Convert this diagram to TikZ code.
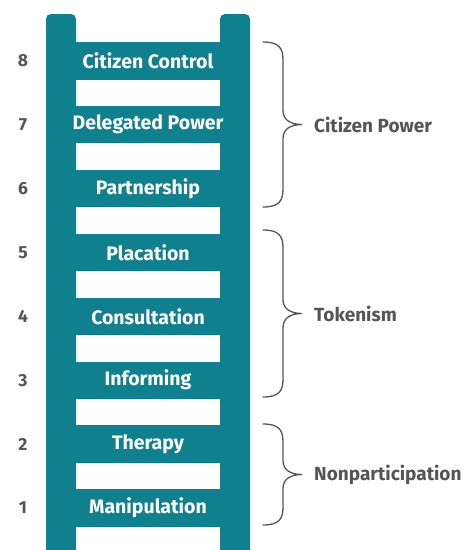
\documentclass[tikz,border=0pt]{standalone}
\usepackage{fontspec}
\setmainfont{Fira Sans}
\definecolor{ladderteal}{RGB}{17,128,142}
\definecolor{labelgray}{RGB}{85,85,85}
\begin{document}
\begin{tikzpicture}[x=1pt,y=-1pt,
  rungbox/.style={fill=ladderteal, draw=none, minimum width=144pt, minimum height=37.5pt,
    inner sep=0pt, text=white, font=\fontsize{19.5}{22}\selectfont\bfseries},
  stepnum/.style={text=labelgray, font=\fontsize{17.5}{20}\selectfont\bfseries, inner sep=0pt},
  brace/.style={draw=labelgray, line width=1.3pt, line cap=round},
  grouplabel/.style={text=labelgray, anchor=west, inner sep=0pt, font=\fontsize{19}{22}\selectfont\bfseries}]
  \useasboundingbox (0,0) rectangle (475,550);
  \fill[white] (0,0) rectangle (475,550);

  % rails with rounded top corners
  \fill[ladderteal, rounded corners=5pt] (46,550) -- (46,14) -- (76,14) -- (76,550) -- cycle;
  \fill[ladderteal, rounded corners=5pt] (220,550) -- (220,14) -- (250,14) -- (250,550) -- cycle;
  \fill[ladderteal] (46,540) rectangle (76,550);
  \fill[ladderteal] (220,540) rectangle (250,550);

  % rungs, top to bottom
  \def\pitch{63.9}
  \foreach \k/\txt/\num in {0/Citizen Control/8, 1/Delegated Power/7, 2/Partnership/6,
      3/Placation/5, 4/Consultation/4, 5/Informing/3, 6/Therapy/2, 7/Manipulation/1}{
    \node[rungbox] (rung\num) at (148, 60.75+\k*\pitch) {\txt};
    \node[stepnum] (num\num) at (23, 60.75+\k*\pitch) {\num};
  }

  % group braces
  \foreach \name/\top/\bot/\txt in {power/42/207/Citizen Power, token/230/397/Tokenism, nonpart/424/525/Nonparticipation}{
    \pgfmathsetmacro{\mid}{(\top+\bot)/2}
    \coordinate (\name-top) at (263,\top);
    \coordinate (\name-bot) at (263,\bot);
    \coordinate (\name-tip) at (302,\mid);
    \draw[brace] (\name-top) .. controls (279,\top) and (283,\top+6) .. (283,\top+18)
      -- (283,\mid-14) .. controls (283,\mid-5) and (290,\mid) .. (\name-tip)
      .. controls (290,\mid) and (283,\mid+5) .. (283,\mid+14)
      -- (283,\bot-18) .. controls (283,\bot-6) and (279,\bot) .. (\name-bot);
    \node[grouplabel] (\name-label) at (314,\mid) {\txt};
  }
\end{tikzpicture}
\end{document}
